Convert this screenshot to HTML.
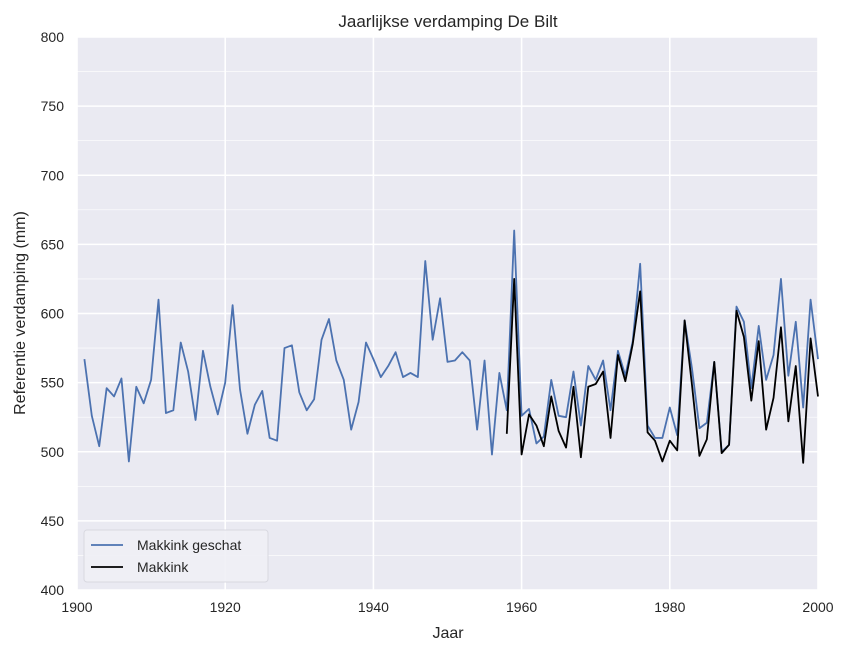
<!DOCTYPE html>
<html><head><meta charset="utf-8"><style>
html,body{margin:0;padding:0;background:#fff;}
svg{display:block;font-family:"Liberation Sans",sans-serif;}
</style></head><body>
<svg id="chart" width="850" height="654">
<text x="448" y="27" text-anchor="middle" font-size="17" fill="#262626">Jaarlijkse verdamping De Bilt</text>
<rect x="77" y="37" width="741" height="553" fill="#eaeaf2"/>
<g id="grid"></g><g id="ticks"></g><g id="series"></g>
<text x="448" y="638" text-anchor="middle" font-size="16" fill="#262626">Jaar</text>
<text transform="translate(25,313) rotate(-90)" text-anchor="middle" font-size="16" fill="#262626">Referentie verdamping (mm)</text>
<g>
<rect x="84" y="530" width="184" height="52" rx="3" fill="#f0f0f5" fill-opacity="0.9" stroke="#d8d8e0"/>
<g>
<line x1="91" y1="545" x2="123" y2="545" stroke="#4c72b0" stroke-width="1.8"/>
<text x="137" y="550" font-size="14" fill="#262626">Makkink geschat</text></g>
<g>
<line x1="91" y1="567" x2="123" y2="567" stroke="#000" stroke-width="1.8"/>
<text x="137" y="572" font-size="14" fill="#262626">Makkink</text></g>
</g>
</svg>
<script>
const estYears=[];for(let y=1901;y<=2000;y++)estYears.push(y);
const estValues=[567,526,504,546,540,553,493,547,535,552,610,528,530,579,558,523,573,547,527,550,606,545,513,534,544,510,508,575,577,543,530,538,581,596,566,552,516,536,579,567,554,562,572,554,557,554,638,581,611,565,566,572,566,516,566,498,557,530,660,526,531,506,511,552,526,525,558,519,562,552,566,530,573,555,580,636,519,510,510,532,512,595,560,517,521,565,500,505,605,594,546,591,552,570,625,555,594,532,610,567];
const mkYears=[];for(let y=1958;y<=2000;y++)mkYears.push(y);
const mkValues=[513,625,498,527,519,504,540,515,503,547,496,547,549,558,510,570,551,578,616,514,508,493,508,501,595,548,497,509,565,499,505,602,583,537,580,516,539,590,522,562,492,582,540];
const xTicks=[1900,1920,1940,1960,1980,2000];
const yTicks=[400,450,500,550,600,650,700,750,800];
const NS='http://www.w3.org/2000/svg';
const X=v=>77+(v-1900)/100*741;
const Y=v=>590-(v-400)/400*553;
const grid=document.getElementById('grid'),ticks=document.getElementById('ticks'),ser=document.getElementById('series');
function mk(t,a,p){const e=document.createElementNS(NS,t);for(const k in a)e.setAttribute(k,a[k]);p.appendChild(e);return e;}
for(let v=425;v<800;v+=50){const l=mk('line',{x1:77,x2:818,y1:Y(v),y2:Y(v),stroke:'#fff','stroke-width':0.6},grid);

}
yTicks.forEach(v=>{const l=mk('line',{x1:77,x2:818,y1:Y(v),y2:Y(v),stroke:'#fff','stroke-width':1.6},grid);


const t=mk('text',{x:64,y:Y(v)+5,'text-anchor':'end','font-size':14,fill:'#262626'},ticks);t.textContent=v;

});
xTicks.forEach(v=>{const l=mk('line',{x1:X(v),x2:X(v),y1:37,y2:590,stroke:'#fff','stroke-width':1.6},grid);


const t=mk('text',{x:X(v),y:612,'text-anchor':'middle','font-size':14,fill:'#262626'},ticks);t.textContent=v;

});
const p1=mk('polyline',{points:estYears.map((y,i)=>X(y)+','+Y(estValues[i])).join(' '),fill:'none',stroke:'#4c72b0','stroke-width':1.8,'stroke-linejoin':'round'},ser);


const p2=mk('polyline',{points:mkYears.map((y,i)=>X(y)+','+Y(mkValues[i])).join(' '),fill:'none',stroke:'#000','stroke-width':1.8,'stroke-linejoin':'round'},ser);


</script>
</body></html>
